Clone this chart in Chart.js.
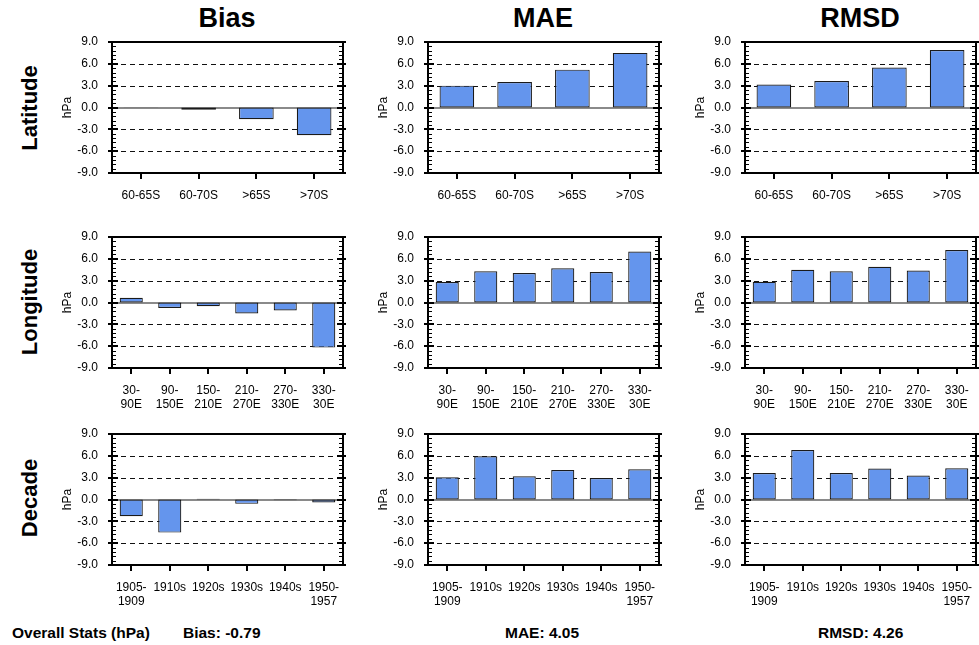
<!DOCTYPE html>
<html>
<head>
<meta charset="utf-8">
<script src="https://cdn.jsdelivr.net/npm/chart.js@4"></script>
<style>
  body { margin: 0; width: 979px; height: 645px; overflow: hidden; background: #fff; font-family: "Liberation Sans", Arial, sans-serif; position: relative; }
  canvas { position: absolute; }
  .coltitle { position: absolute; font-weight: bold; font-size: 27px; transform: translate(-50%, -50%); white-space: nowrap; }
  .rowtitle { position: absolute; font-weight: bold; font-size: 22px; transform: translate(-50%, -50%) rotate(-90deg); white-space: nowrap; }
  .stat { position: absolute; font-weight: bold; font-size: 15.5px; transform: translateY(-50%); white-space: nowrap; }
</style>
</head>
<body>
<div class="coltitle" style="left:227px;top:18px">Bias</div>
<div class="coltitle" style="left:543px;top:18px">MAE</div>
<div class="coltitle" style="left:860px;top:18px">RMSD</div>
<div class="rowtitle" style="left:30px;top:108px">Latitude</div>
<div class="rowtitle" style="left:30px;top:302px">Longitude</div>
<div class="rowtitle" style="left:30px;top:498px">Decade</div>
<div class="stat" style="left:12px;top:633px">Overall Stats (hPa)</div>
<div class="stat" style="left:183px;top:633px">Bias: -0.79</div>
<div class="stat" style="left:505px;top:633px">MAE: 4.05</div>
<div class="stat" style="left:818px;top:633px">RMSD: 4.26</div>
<script>
// categories
const lat_labels = ['60-65S', '60-70S', '>65S', '>70S'];
const lon_labels = [['30-', '90E'], ['90-', '150E'], ['150-', '210E'], ['210-', '270E'], ['270-', '330E'], ['330-', '30E']];
const dec_labels = [['1905-', '1909'], '1910s', '1920s', '1930s', '1940s', ['1950-', '1957']];

// values (hPa)
const lat_bias = [-0.05, -0.3, -1.6, -3.8];
const lat_mae = [3.0, 3.5, 5.2, 7.5];
const lat_rmsd = [3.15, 3.65, 5.5, 7.9];
const lon_bias = [0.65, -0.75, -0.5, -1.5, -1.1, -6.2];
const lon_mae = [2.8, 4.3, 4.05, 4.7, 4.2, 7.0];
const lon_rmsd = [2.85, 4.5, 4.3, 4.9, 4.4, 7.2];
const dec_bias = [-2.3, -4.55, 0.1, -0.6, -0.1, -0.4];
const dec_mae = [3.05, 5.95, 3.2, 4.05, 2.95, 4.15];
const dec_rmsd = [3.65, 6.8, 3.65, 4.25, 3.3, 4.3];

// y axis
const y_min = -9;
const y_max = 9;
const y_step = 3;
const y_minor = 0.6;

const col_left = [112, 428, 745];
const row_top = [42, 237, 434];
const plot_w = 231;
const plot_h = 131;
const axis_w = 60;
const axis_h = 52;
const pad_top = 8;
const pad_right = 6;

const panels = [
  [lat_labels, lat_bias, 0, 0], [lat_labels, lat_mae, 0, 1], [lat_labels, lat_rmsd, 0, 2],
  [lon_labels, lon_bias, 1, 0], [lon_labels, lon_mae, 1, 1], [lon_labels, lon_rmsd, 1, 2],
  [dec_labels, dec_bias, 2, 0], [dec_labels, dec_mae, 2, 1], [dec_labels, dec_rmsd, 2, 2]
];

// dashed grid + zero line behind bars, frame and tick marks on top (NCL style)
const nclFrame = {
  id: 'nclFrame',
  beforeDatasetsDraw: function (chart) {
    var ctx = chart.ctx, a = chart.chartArea, ys = chart.scales.y;
    var L = Math.round(a.left), R = Math.round(a.right);
    ctx.save();
    ctx.lineWidth = 1;
    ctx.strokeStyle = '#111';
    ctx.setLineDash([5, 4]);
    for (var k = 1; k < (y_max - y_min) / y_step; k++) {
      var v = y_min + k * y_step;
      if (Math.abs(v) < 1e-9) continue;
      var py = Math.round(ys.getPixelForValue(v)) + 0.5;
      ctx.beginPath(); ctx.moveTo(L, py); ctx.lineTo(R, py); ctx.stroke();
    }
    ctx.setLineDash([]);
    ctx.fillStyle = '#8a8a8a';
    ctx.fillRect(L, Math.round(ys.getPixelForValue(0)) - 1, R - L, 2);
    ctx.restore();
  },
  afterDraw: function (chart) {
    var ctx = chart.ctx, a = chart.chartArea, ys = chart.scales.y, xs = chart.scales.x;
    var L = Math.round(a.left), R = Math.round(a.right), T = Math.round(a.top), B = Math.round(a.bottom);
    ctx.save();
    ctx.fillStyle = '#000000';
    ctx.fillRect(L - 1, T - 1, R - L + 2, 2);
    ctx.fillRect(L - 1, B - 1, R - L + 2, 2);
    ctx.fillRect(L - 1, T - 1, 2, B - T + 2);
    ctx.fillRect(R - 1, T - 1, 2, B - T + 2);
    var nMinor = Math.round((y_max - y_min) / y_minor);
    for (var k = 0; k <= nMinor; k++) {
      var py = Math.round(ys.getPixelForValue(y_min + k * y_minor));
      ctx.fillRect(L, py, 4, 1);
      ctx.fillRect(R - 4, py, 4, 1);
    }
    var nMajor = Math.round((y_max - y_min) / y_step);
    for (var k = 0; k <= nMajor; k++) {
      var py = Math.round(ys.getPixelForValue(y_min + k * y_step));
      ctx.fillRect(L - 4, py - 1, 10, 2);
      ctx.fillRect(R - 6, py - 1, 9, 2);
    }
    for (var i = 0; i < chart.data.labels.length; i++) {
      var px = Math.round(xs.getPixelForValue(i));
      ctx.fillRect(px - 1, B, 2, 6);
    }
    ctx.restore();
  }
};

panels.forEach(function (p) {
  var cv = document.createElement('canvas');
  var w = axis_w + plot_w + pad_right;
  var h = pad_top + plot_h + axis_h;
  cv.width = w; cv.height = h;
  cv.style.width = w + 'px'; cv.style.height = h + 'px';
  cv.style.left = (col_left[p[3]] - axis_w) + 'px';
  cv.style.top = (row_top[p[2]] - pad_top) + 'px';
  document.body.appendChild(cv);

  new Chart(cv, {
    type: 'bar',
    data: {
      labels: p[0],
      datasets: [{
        data: p[1],
        backgroundColor: '#6495ed',
        borderColor: '#1a1a1a',
        borderWidth: 1.2,
        borderSkipped: false,
        barPercentage: 0.6,
        categoryPercentage: 1.0
      }]
    },
    options: {
      responsive: false,
      animation: false,
      layout: { padding: { top: pad_top, right: pad_right, left: 0, bottom: 0 } },
      plugins: { legend: { display: false }, tooltip: { enabled: false } },
      scales: {
        x: {
          grid: { display: false },
          border: { display: false },
          ticks: { color: '#000', font: { family: 'Liberation Sans', size: 12 }, padding: 7, maxRotation: 0, autoSkip: false },
          afterFit: function (s) { s.height = axis_h; s.paddingLeft = 0; s.paddingRight = 0; }
        },
        y: {
          min: y_min,
          max: y_max,
          grid: { display: false },
          border: { display: false },
          ticks: {
            stepSize: y_step,
            color: '#000',
            font: { family: 'Liberation Sans', size: 12 },
            padding: 6,
            callback: function (v) { return (Math.abs(v) < 1e-9 ? 0 : Number(v)).toFixed(1); }
          },
          title: { display: true, text: 'hPa', color: '#000', font: { family: 'Liberation Sans', size: 12 }, padding: { top: 8, bottom: 0 } },
          afterFit: function (s) { s.width = axis_w; s.paddingTop = 0; s.paddingBottom = 0; }
        }
      }
    },
    plugins: [nclFrame]
  });
});
</script>
</body>
</html>
